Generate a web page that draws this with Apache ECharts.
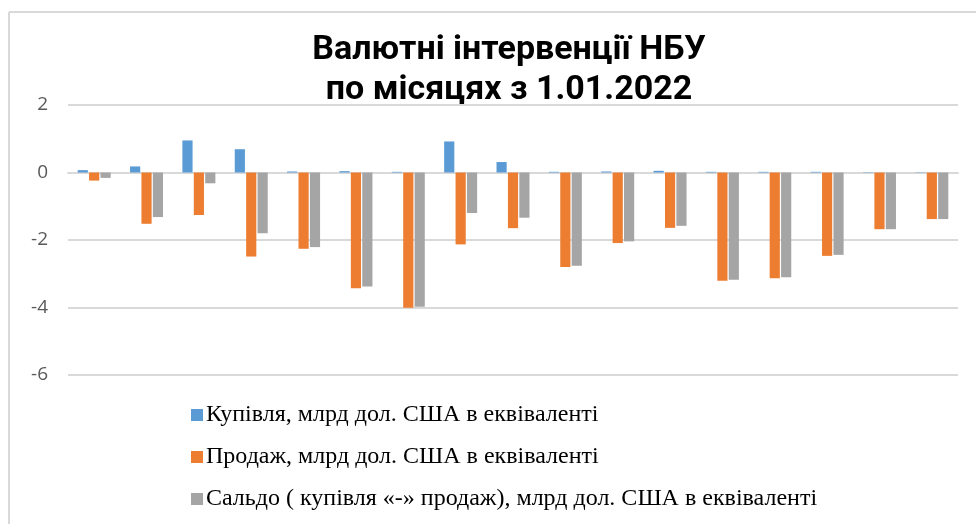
<!DOCTYPE html>
<html>
<head>
<meta charset="utf-8">
<script src="https://cdn.jsdelivr.net/npm/echarts@6/dist/echarts.min.js"></script>
<style>
  html, body { margin: 0; padding: 0; background: #fff; }
  #chart { width: 976px; height: 524px; }
</style>
</head>
<body>
<div id="chart"></div>
<script>
// months from 1.01.2022 (labels are hidden in the original)
var months = ['01.2022', '02.2022', '03.2022', '04.2022', '05.2022', '06.2022',
  '07.2022', '08.2022', '09.2022', '10.2022', '11.2022', '12.2022',
  '01.2023', '02.2023', '03.2023', '04.2023', '05.2023'];
var purchase = [0.07, 0.18, 0.95, 0.69, 0.03, 0.04, 0.02, 0.92, 0.31, 0.02, 0.03, 0.05, 0.02, 0.02, 0.02, 0.01, 0.01];
var sale = [-0.24, -1.52, -1.26, -2.49, -2.26, -3.43, -4.01, -2.13, -1.65, -2.80, -2.09, -1.64, -3.21, -3.13, -2.47, -1.68, -1.38];
var balance = [-0.16, -1.32, -0.32, -1.80, -2.21, -3.38, -3.98, -1.20, -1.34, -2.76, -2.04, -1.58, -3.18, -3.10, -2.44, -1.68, -1.38];
var seriesNames = [
  'Купівля, млрд дол. США в еквіваленті',
  'Продаж, млрд дол. США в еквіваленті',
  'Сальдо ( купівля «-» продаж), млрд дол. США в еквіваленті'
];

var chart = echarts.init(document.getElementById('chart'));

function bar(name, data, color) {
  return {
    name: name,
    type: 'bar',
    data: data,
    barGap: '12%',
    barCategoryGap: '37%',
    itemStyle: { color: color }
  };
}

chart.setOption({
  backgroundColor: '#ffffff',
  animation: false,
  title: {
    text: 'Валютні інтервенції НБУ\nпо місяцях з 1.01.2022',
    left: 504,
    textAlign: 'center',
    top: 25,
    textStyle: {
      fontFamily: 'Roboto',
      fontWeight: 'bold',
      fontSize: 34,
      lineHeight: 40,
      color: '#000'
    }
  },
  graphic: [
    { type: 'line', shape: { x1: 9, y1: 12, x2: 976, y2: 12 }, style: { stroke: '#d9d9d9', lineWidth: 2 } },
    { type: 'line', shape: { x1: 9, y1: 12, x2: 9, y2: 524 }, style: { stroke: '#d9d9d9', lineWidth: 2 } }
  ],
  legend: {
    orient: 'vertical',
    left: 186,
    top: 398,
    itemWidth: 12,
    itemHeight: 12,
    itemGap: 18,
    icon: 'rect',
    data: seriesNames,
    textStyle: {
      fontFamily: 'Liberation Serif',
      fontSize: 24,
      color: '#000',
      padding: [0, 0, 0, -2]
    }
  },
  grid: {
    left: 68,
    right: 18,
    top: 105,
    bottom: 149,
    containLabel: false
  },
  xAxis: {
    type: 'category',
    data: months,
    axisLine: { show: true, onZero: true, lineStyle: { color: '#d9d9d9', width: 2 } },
    axisTick: { show: false },
    axisLabel: { show: false }
  },
  yAxis: {
    type: 'value',
    min: -6,
    max: 2,
    interval: 2,
    axisLine: { show: false },
    axisTick: { show: false },
    axisLabel: {
      fontFamily: 'Open Sans',
      fontSize: 19,
      color: '#595959',
      margin: 20
    },
    splitLine: { lineStyle: { color: '#d9d9d9', width: 2 } }
  },
  series: [
    bar(seriesNames[0], purchase, '#5b9bd5'),
    bar(seriesNames[1], sale, '#ed7d31'),
    bar(seriesNames[2], balance, '#a5a5a5')
  ]
});
</script>
</body>
</html>
